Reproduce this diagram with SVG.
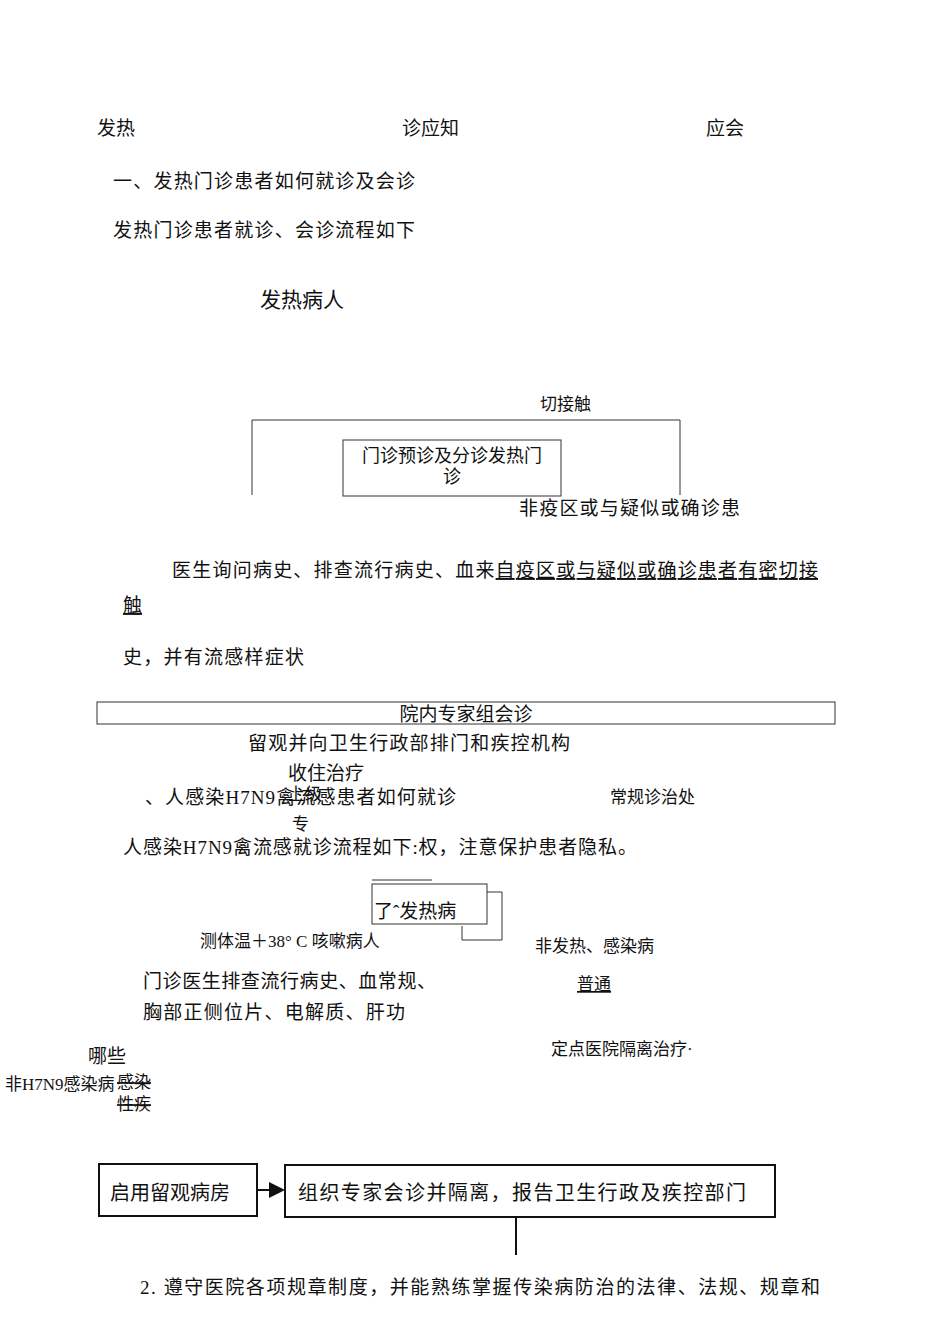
<svg xmlns="http://www.w3.org/2000/svg" width="950" height="1344" viewBox="0 0 950 1344">
<style>
text{font-family:"Liberation Serif","Noto Sans CJK SC",serif;fill:#111;font-size:19px}
.s{font-size:17px}
.b{fill:none;stroke:#333;stroke-width:1}
.k{fill:none;stroke:#111;stroke-width:2}
</style>
<defs><marker id="a" markerWidth="8" markerHeight="8" refX="7" refY="4" orient="auto"><path d="M0,0L8,4L0,8z" fill="#111"/></marker></defs>
<rect width="950" height="1344" fill="#fff"/>
<text x="97" y="135">发热</text><text x="402" y="135">诊应知</text><text x="706" y="135">应会</text>
<text x="113" y="188" textLength="302">一、发热门诊患者如何就诊及会诊</text>
<text x="113" y="237" textLength="302">发热门诊患者就诊、会诊流程如下</text>
<g id="n1"><text x="260" y="307" style="font-size:21px">发热病人</text></g>
<g id="connectors">
<path class="b" d="M252,495V420H680V495"/>
<path class="b" d="M372,880H432"/>
<path class="b" d="M487,892H502V940H462V926"/>
<path class="k" d="M257,1190H283" marker-end="url(#a)"/>
<path class="k" d="M516,1217V1255"/>
</g>
<text x="540" y="410" class="s">切接触</text>
<g id="n2"><rect class="b" x="343" y="440" width="218" height="56"/>
<text x="452" y="462" text-anchor="middle" style="font-size:18px">门诊预诊及分诊发热门</text>
<text x="452" y="483" text-anchor="middle" style="font-size:18px">诊</text></g>
<text x="519" y="515" textLength="221">非疫区或与疑似或确诊患</text>
<text x="172" y="577" textLength="646">医生询问病史、排查流行病史、血来<tspan text-decoration="underline">自疫区或与疑似或确诊患者有密切接</tspan></text>
<text x="123" y="612" text-decoration="underline">触</text>
<text x="123" y="664" textLength="181">史，并有流感样症状</text>
<g id="n3"><rect class="b" x="97" y="702" width="738" height="22"/>
<text x="466" y="721" text-anchor="middle">院内专家组会诊</text></g>
<text x="248" y="750" textLength="322">留观并向卫生行政部排门和疾控机构</text>
<text x="288" y="780">收住治疗</text>
<text x="288" y="800" class="s">上级</text>
<text x="145" y="804" textLength="311">、人感染H7N9禽流感患者如何就诊</text>
<text x="610" y="803" class="s">常规诊治处</text>
<text x="292" y="830" class="s">专</text>
<text x="123" y="854" textLength="514">人感染H7N9禽流感就诊流程如下:权，注意保护患者隐私。</text>
<g id="n4"><rect class="b" x="372" y="884" width="115" height="40"/>
<text x="374" y="918">了ˆ发热病</text></g>
<text x="200" y="947" class="s">测体温＋38° C 咳嗽病人</text>
<text x="535" y="952" class="s">非发热、感染病</text>
<text x="143" y="988" textLength="293">门诊医生排查流行病史、血常规、</text>
<text x="143" y="1019" textLength="262">胸部正侧位片、电解质、肝功</text>
<text x="577" y="990" class="s" text-decoration="underline">普通</text>
<text x="88" y="1063">哪些</text>
<text x="551" y="1055" class="s">定点医院隔离治疗·</text>
<text x="5" y="1090" class="s">非H7N9感染病</text>
<text x="117" y="1088" class="s" text-decoration="line-through">感染</text>
<text x="117" y="1110" class="s" text-decoration="line-through">性疾</text>
<g id="n5"><rect class="k" x="99" y="1164" width="158" height="52"/>
<text x="110" y="1200" style="font-size:20px">启用留观病房</text></g>
<g id="n6"><rect class="k" x="285" y="1165" width="490" height="52"/>
<text x="298" y="1200" style="font-size:20px" textLength="448">组织专家会诊并隔离，报告卫生行政及疾控部门</text></g>
<text x="140" y="1294" textLength="680">2.  遵守医院各项规章制度，并能熟练掌握传染病防治的法律、法规、规章和</text>
</svg>
